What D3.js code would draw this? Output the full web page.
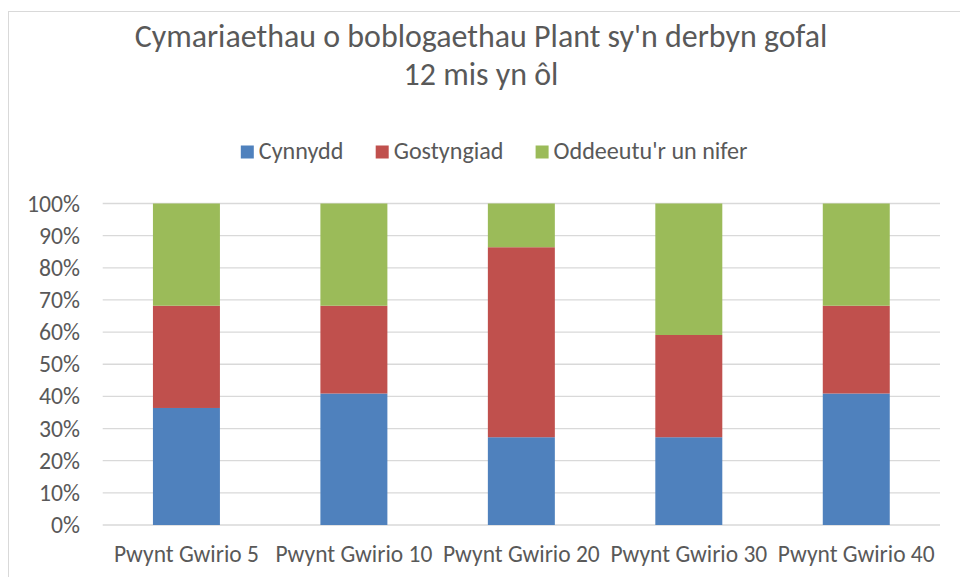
<!DOCTYPE html>
<html>
<head>
    <meta charset="utf-8">
    <title>Cymariaethau</title>
    <script src="https://cdnjs.cloudflare.com/ajax/libs/d3/7.8.5/d3.min.js"></script>
    <style>
        body{ margin: 0; background: #fff; }
        svg{ display: block; font-family: Carlito, Lato, "Open Sans", sans-serif; }
    </style>
</head>
<body>
<script>
    // data (share of children, 22 per checkpoint)
    const categories = ['Pwynt Gwirio 5', 'Pwynt Gwirio 10', 'Pwynt Gwirio 20', 'Pwynt Gwirio 30', 'Pwynt Gwirio 40'];
    const seriesNames = ['Cynnydd', 'Gostyngiad', "Oddeeutu'r un nifer"];
    const cynnydd = [0.364, 0.409, 0.273, 0.273, 0.409];
    const gostyngiad = [0.318, 0.273, 0.591, 0.318, 0.273];
    const oddeeutu = [0.318, 0.318, 0.136, 0.409, 0.318];
    const yTicks = [0, 0.1, 0.2, 0.3, 0.4, 0.5, 0.6, 0.7, 0.8, 0.9, 1];
    const colors = ['#4F81BD', '#C0504D', '#9BBB59'];
    const textColor = '#595959';

    const W = 960, H = 577;
    const svg = d3.select('body').append('svg')
        .attr('width', W)
        .attr('height', H);

    // chart border
    svg.append('rect')
        .attr('x', 8.5).attr('y', 11.5)
        .attr('width', W).attr('height', H)
        .attr('fill', '#fff')
        .attr('stroke', '#d9d9d9');

    // scale text so it spans a given width
    function fit(sel, width){
        const w = sel.node().getComputedTextLength();
        const fs = parseFloat(sel.attr('font-size'));
        sel.attr('font-size', fs * width / w);
        return sel;
    }

    // title
    const t1 = svg.append('text')
        .attr('x', 481).attr('y', 47)
        .attr('text-anchor', 'middle')
        .attr('font-size', 30)
        .attr('fill', textColor)
        .text("Cymariaethau o boblogaethau Plant sy'n derbyn gofal");
    fit(t1, 693);
    svg.append('text')
        .attr('x', 481).attr('y', 85)
        .attr('text-anchor', 'middle')
        .attr('font-size', t1.attr('font-size'))
        .attr('fill', textColor)
        .text('12 mis yn ôl');

    // scales
    const x = d3.scaleBand()
        .domain(categories)
        .range([102.7, 940])
        .paddingInner(0.6)
        .paddingOuter(0.3);
    const y = d3.scaleLinear()
        .domain([0, 1])
        .range([525, 203.5]);

    // gridlines
    svg.append('g')
        .selectAll('line').data(yTicks).enter()
        .append('line')
        .attr('x1', 102.7).attr('x2', 940)
        .attr('y1', d => y(d)).attr('y2', d => y(d))
        .attr('stroke', '#d9d9d9')
        .attr('stroke-width', 1.3);

    // y axis labels
    const yAxis = svg.append('g')
        .attr('transform', 'translate(90,0)')
        .call(d3.axisLeft(y).tickValues(yTicks).tickFormat(d3.format('.0%')).tickSize(0).tickPadding(10))
        .attr('font-family', null);
    yAxis.select('.domain').remove();
    yAxis.selectAll('text')
        .attr('font-size', 19)
        .attr('fill', textColor);
    fit(yAxis.select('.tick:last-of-type text'), 53);
    yAxis.selectAll('text').attr('font-size', yAxis.select('.tick:last-of-type text').attr('font-size'));

    // stacked bars
    const rows = categories.map((c, i) => ({cat: c, s0: cynnydd[i], s1: gostyngiad[i], s2: oddeeutu[i]}));
    const stack = d3.stack().keys(['s0', 's1', 's2'])(rows);

    svg.append('g')
        .selectAll('g').data(stack).enter()
        .append('g')
        .attr('fill', (d, i) => colors[i])
        .selectAll('rect').data(d => d).enter()
        .append('rect')
        .attr('x', d => x(d.data.cat))
        .attr('width', x.bandwidth())
        .attr('y', d => y(d[1]))
        .attr('height', d => y(d[0]) - y(d[1]));

    // x axis labels
    const xAxis = svg.append('g')
        .attr('transform', 'translate(0,525)')
        .call(d3.axisBottom(x).tickSize(0).tickPadding(20))
        .attr('font-family', null);
    xAxis.select('.domain').remove();
    xAxis.selectAll('text')
        .attr('font-size', 19)
        .attr('fill', textColor);
    fit(xAxis.select('.tick text'), 145);
    xAxis.selectAll('text').attr('font-size', xAxis.select('.tick text').attr('font-size'));

    // legend
    const legendX = [240.8, 375.7, 535.6];
    const legend = svg.append('g')
        .selectAll('g').data(seriesNames).enter()
        .append('g')
        .attr('transform', (d, i) => `translate(${legendX[i]},152)`);
    legend.append('rect')
        .attr('x', 0).attr('y', -6.5)
        .attr('width', 13).attr('height', 13)
        .attr('fill', (d, i) => colors[i]);
    const legText = legend.append('text')
        .attr('x', 18).attr('y', 7)
        .attr('font-size', 20)
        .attr('fill', textColor)
        .text(d => d);
    fit(d3.select(legText.nodes()[2]), 194);
    legText.attr('font-size', d3.select(legText.nodes()[2]).attr('font-size'));
</script>
</body>
</html>
